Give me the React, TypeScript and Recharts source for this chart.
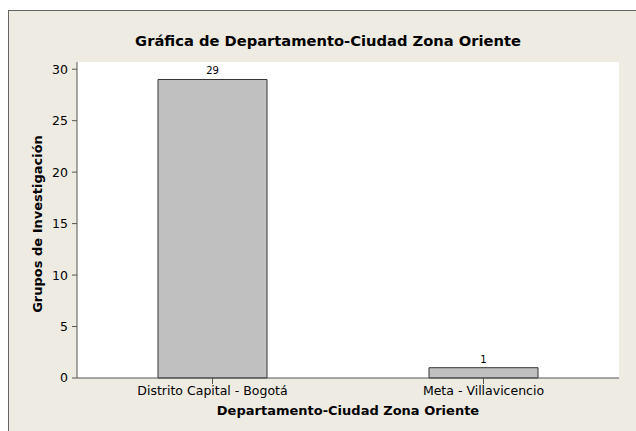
import { BarChart, Bar, XAxis, YAxis, CartesianGrid, LabelList } from "recharts";

const categories = ["Distrito Capital - Bogotá", "Meta - Villavicencio"];
const grupos = [29, 1];
const yTicks = [0, 5, 10, 15, 20, 25, 30];

const data = categories.map((name, i) => ({ name, grupos: grupos[i] }));

const font = "Tahoma, 'DejaVu Sans', sans-serif";

export default function App() {
  return (
    <div
      style={{
        position: "absolute",
        left: 0,
        top: 0,
        width: 636,
        height: 431,
        overflow: "hidden",
        background: "#fff",
        fontFamily: font,
      }}
    >
      <div
        style={{
          position: "absolute",
          left: 8,
          top: 10,
          width: 700,
          height: 500,
          background: "#eeebe2",
          border: "1px solid #666",
        }}
      />
      <div
        style={{
          position: "absolute",
          left: 0,
          top: 32,
          width: 656,
          textAlign: "center",
          fontWeight: "bold",
          fontSize: 14.7,
          color: "#000",
        }}
      >
        Gráfica de Departamento-Ciudad Zona Oriente
      </div>
      <div style={{ position: "absolute", left: 0, top: 0 }}>
        <BarChart
          width={636}
          height={431}
          data={data}
          margin={{ top: 62, right: 17, bottom: 0, left: 0 }}
        >
          <CartesianGrid horizontal={false} vertical={false} fill="#ffffff" />
          <XAxis
            dataKey="name"
            height={53}
            tickSize={6}
            tickMargin={2}
            axisLine={{ stroke: "#555" }}
            tickLine={{ stroke: "#555" }}
            tick={{ fill: "#000", fontSize: 12.5, fontFamily: font }}
            label={{
              value: "Departamento-Ciudad Zona Oriente",
              position: "center",
              dy: 6,
              fill: "#000",
              fontSize: 13,
              fontWeight: "bold",
              fontFamily: font,
            }}
          />
          <XAxis
            xAxisId="top"
            orientation="top"
            height={0}
            tick={false}
            tickLine={false}
            axisLine={{ stroke: "#555" }}
          />
          <YAxis
            width={77}
            domain={[0, 30.7]}
            ticks={yTicks}
            interval={0}
            tickSize={5}
            tickMargin={4}
            axisLine={{ stroke: "#555" }}
            tickLine={{ stroke: "#555" }}
            tick={{ fill: "#000", fontSize: 12.5, fontFamily: font }}
            label={{
              value: "Grupos de Investigación",
              angle: -90,
              position: "center",
              dx: -1,
              dy: 4,
              fill: "#000",
              fontSize: 13,
              fontWeight: "bold",
              fontFamily: font,
            }}
          />
          <YAxis
            yAxisId="right"
            orientation="right"
            width={0}
            tick={false}
            tickLine={false}
            axisLine={{ stroke: "#555" }}
          />
          <Bar
            dataKey="grupos"
            fill="#c0c0c0"
            stroke="#333"
            strokeWidth={1}
            barSize={109}
            isAnimationActive={false}
          >
            <LabelList
              dataKey="grupos"
              position="top"
              offset={5}
              fill="#000"
              fontSize={10}
              fontFamily={font}
            />
          </Bar>
        </BarChart>
      </div>
    </div>
  );
}
